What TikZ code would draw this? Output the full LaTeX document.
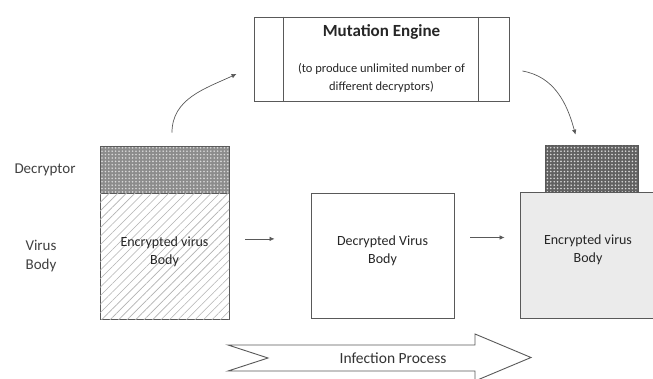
\documentclass[tikz,border=0pt]{standalone}
\usepackage{fontspec}
\setmainfont{Carlito}
\usetikzlibrary{arrows.meta, positioning, patterns.meta}

\begin{document}
\begin{tikzpicture}[
  x=1pt, y=-1pt,
  box/.style    = {rectangle, draw=black!65, line width=0.9pt, align=center,
                   text=black!85, font=\fontsize{14}{18}\selectfont},
  dotfill/.style = {fill=#1, postaction={pattern={Dots[distance=3.4pt,radius=0.9pt]},
                   pattern color=white!85!black}},
  hatchfill/.style = {fill=white, postaction={pattern={Lines[angle=45,distance=6pt,line width=0.6pt]},
                   pattern color=black!30}},
  side/.style   = {align=center, text=black!75, font=\fontsize{15}{19}\selectfont},
  flow/.style   = {-{Latex[length=5pt,width=4.5pt]}, line width=0.7pt, color=black!65},
]
  \useasboundingbox (0,0) rectangle (653,379);

  % mutation engine
  \node[box, minimum width=255pt, minimum height=84pt] (engine) at (381.5,59)
    {{\bfseries\fontsize{17}{20}\selectfont Mutation Engine}\\[18pt]
     {\fontsize{12.5}{16}\selectfont (to produce unlimited number of}\\
     {\fontsize{12.5}{16}\selectfont different decryptors)}};
  \draw[black!65, line width=0.9pt] ([xshift=30pt]engine.north west) -- ([xshift=30pt]engine.south west);
  \draw[black!65, line width=0.9pt] ([xshift=-31pt]engine.north east) -- ([xshift=-31pt]engine.south east);

  % original virus
  \node[box, dotfill=black!45, minimum width=129pt, minimum height=47pt] (ldec) at (164.5,169.5) {};
  \node[box, hatchfill, minimum width=129pt, minimum height=126pt, below=0pt of ldec] (lbody)
    {Encrypted virus\\Body\\[-6pt]};
  \node[side] (declab) at (45,170) {Decryptor};
  \node[side] (bodylab) at (41,256) {Virus\\Body};

  % decrypted body
  \node[box, fill=white, minimum width=143pt, minimum height=125pt] (mid) at (382.5,255.5)
    {Decrypted Virus\\Body\\[-6pt]};

  % new generation
  \node[box, fill=black!8, minimum width=136pt, minimum height=126pt] (rbody) at (588,255)
    {Encrypted virus\\Body\\[-6pt]};
  \node[box, dotfill=black!62, minimum width=93pt, minimum height=46pt, above=0pt of rbody.north, xshift=3.5pt] (rdec) {};

  % arrows
  \draw[flow, shorten <=16pt, shorten >=36pt] ([yshift=18pt]lbody.east) -- ([yshift=18pt]lbody.east -| mid.west);
  \draw[flow, shorten <=16pt, shorten >=15pt] ([yshift=18pt]mid.east) -- ([yshift=18pt]mid.east -| rbody.west);
  \draw[flow] ([xshift=7.5pt,yshift=13pt]ldec.north) to[out=90, in=205] ([xshift=-17pt,yshift=-15pt]engine.west);
  \draw[flow] ([xshift=13pt,yshift=-12pt]engine.east) to[out=-10, in=105] ([xshift=-16pt,yshift=10pt]rdec.north);

  % infection process
  \draw[black!65, line width=0.9pt, fill=white]
    (228,345) -- (475,345) -- (475,334) -- (531,357.5) -- (475,381) -- (475,371) -- (228,371) -- (268,358) -- cycle;
  \node[text=black!80, font=\fontsize{15.5}{18}\selectfont] (infect) at (393,358) {Infection Process};
\end{tikzpicture}
\end{document}
